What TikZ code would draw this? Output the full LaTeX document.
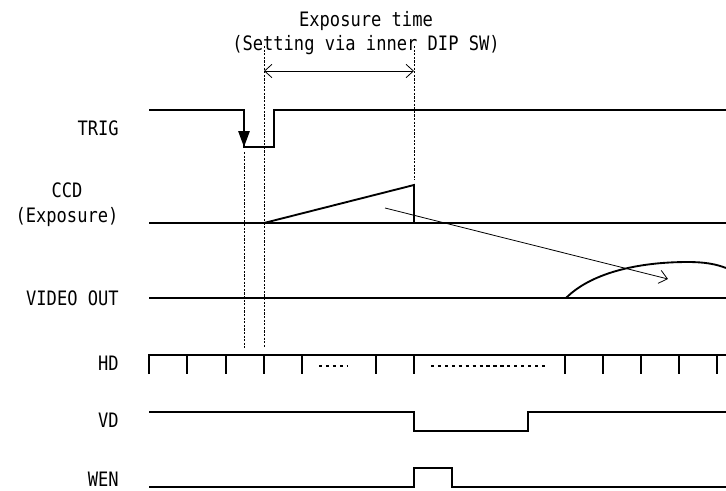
\documentclass[tikz,border=0pt]{standalone}
\usepackage{fontspec}
\newfontfamily\lblfont[FakeStretch=0.86]{DejaVu Sans Mono}
\usetikzlibrary{arrows.meta}
\begin{document}
\begin{tikzpicture}[x=0.75pt,y=-0.75pt,
  sig/.style={line width=1.4pt,line join=miter},
  guide/.style={line width=0.55pt,dash pattern=on 1.6pt off 1.1pt},
  thin/.style={line width=0.6pt},
  lbl/.style={font=\lblfont\fontsize{14.9}{17}\selectfont,inner sep=0pt},
  dots/.style={line width=0.9pt,dash pattern=on 2.4pt off 2.8pt}]
\useasboundingbox (0,0) rectangle (726,490);
\fill[white] (0,0) rectangle (726,490);

% header
\node[lbl] (hdr1) at (366,21) {Exposure time};
\node[lbl] (hdr2) at (366,45) {(Setting via inner DIP SW)};

% labels
\node[lbl,anchor=east] (trig) at (119,128) {TRIG};
\node[lbl] (ccd) at (67,190) {CCD};
\node[lbl] (ccdx) at (67,217) {(Exposure)};
\node[lbl,anchor=east] (vout) at (119,298) {VIDEO OUT};
\node[lbl,anchor=east] (hd) at (119,363) {HD};
\node[lbl,anchor=east] (vd) at (119,420) {VD};
\node[lbl,anchor=east] (wen) at (119,479) {WEN};

% guide lines
\coordinate (gA1) at (264,46); \coordinate (gA2) at (264,348);
\coordinate (gB1) at (414,46); \coordinate (gB2) at (414,180);
\coordinate (gC1) at (244,152); \coordinate (gC2) at (244,348);
\draw[guide] (gA1) -- (gA2);
\draw[guide] (gB1) -- (gB2);
\draw[guide] (gC1) -- (gC2);

% exposure arrow
\coordinate (eL) at (264,71); \coordinate (eR) at (414,71);
\draw[thin,{Straight Barb[length=5.5pt,width=10pt]}-{Straight Barb[length=5.5pt,width=10pt]}] (eL) -- (eR);

% TRIG
\draw[sig] (149,110) -- (244,110) -- (244,147) -- (274,147) -- (274,110) -- (726,110);
\coordinate (tA) at (244,112); \coordinate (tB) at (244,147);
\draw[line width=1.4pt,-{Triangle[length=12pt,width=8.5pt]}] (tA) -- (tB);

% CCD
\draw[sig] (149,223) -- (726,223);
\draw[sig] (264,223) -- (414,185) -- (414,223);

% thin transfer arrow
\coordinate (aS) at (385,208); \coordinate (aE) at (668,279);
\draw[thin,-{Straight Barb[length=6pt,width=10pt]}] (aS) -- (aE);

% VIDEO OUT
\draw[sig] (149,298) -- (726,298);
\draw[sig] (566,298) .. controls (590,274) and (635,262) .. (688,262)
  .. controls (704,262) and (716,264) .. (726,268);

% HD
\draw[sig] (149,374) -- (149,355) -- (726,355);
\foreach \x in {187,226,264,302,376,414,565,603,641,679,717}
  \draw[sig] (\x,355) -- (\x,374);
\draw[dots] (319,366) -- (348,366);
\draw[dots] (431,366) -- (545,366);

% VD
\draw[sig] (149,412) -- (414,412) -- (414,431) -- (528,431) -- (528,412) -- (726,412);

% WEN
\draw[sig] (149,487) -- (414,487) -- (414,468) -- (452,468) -- (452,487) -- (726,487);
\end{tikzpicture}
\end{document}
